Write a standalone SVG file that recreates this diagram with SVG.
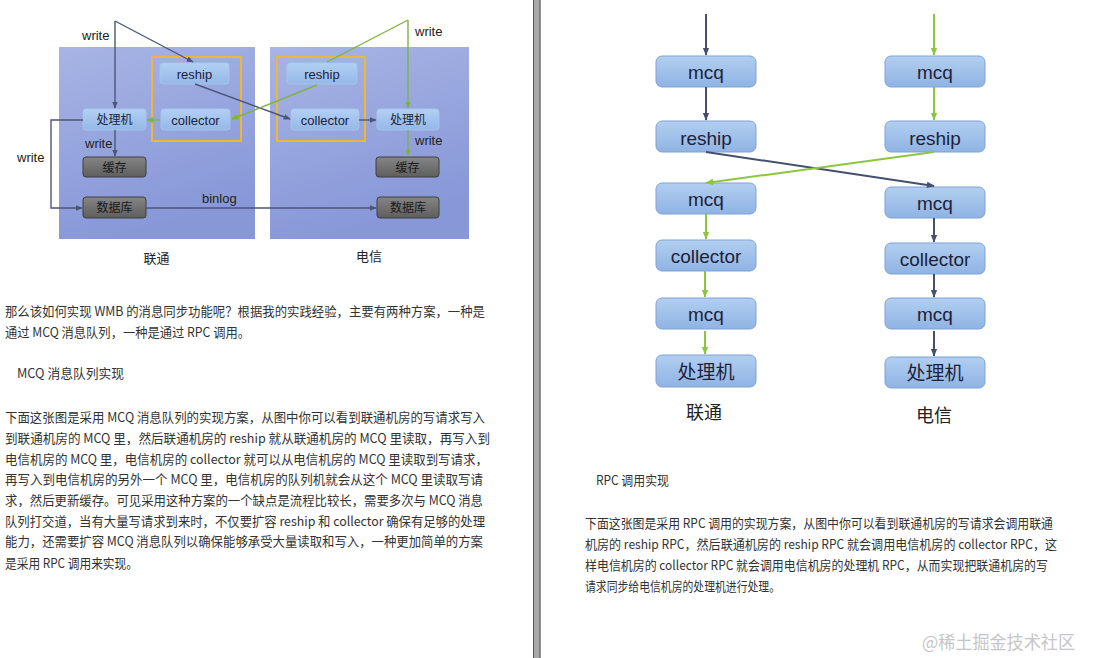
<svg xmlns="http://www.w3.org/2000/svg" width="1100" height="658" viewBox="0 0 1100 658">
<defs>
<linearGradient id="panel" x1="0" y1="0" x2="0.3" y2="1"><stop offset="0" stop-color="#a7b4e4"/><stop offset="1" stop-color="#8797d8"/></linearGradient>
<linearGradient id="lbox" x1="0" y1="0" x2="0" y2="1"><stop offset="0" stop-color="#b3d0f3"/><stop offset="1" stop-color="#94b8e8"/></linearGradient>
<linearGradient id="gbox" x1="0" y1="0" x2="0" y2="1"><stop offset="0" stop-color="#858585"/><stop offset="1" stop-color="#5e5e5e"/></linearGradient>
<linearGradient id="rbox" x1="0" y1="0" x2="0" y2="1"><stop offset="0" stop-color="#b2cff1"/><stop offset="1" stop-color="#8fb3e3"/></linearGradient>
<marker id="ad" viewBox="0 0 10 10" refX="9" refY="5" markerWidth="7" markerHeight="7" markerUnits="userSpaceOnUse" orient="auto"><path d="M0,1 L10,5 L0,9 z" fill="#4b5677"/></marker>
<marker id="ag" viewBox="0 0 10 10" refX="9" refY="5" markerWidth="7" markerHeight="7" markerUnits="userSpaceOnUse" orient="auto"><path d="M0,1 L10,5 L0,9 z" fill="#7cb342"/></marker>
<marker id="agb" viewBox="0 0 10 10" refX="9" refY="5" markerWidth="8" markerHeight="8" markerUnits="userSpaceOnUse" orient="auto"><path d="M0,1 L10,5 L0,9 z" fill="#8cc63f"/></marker>
<marker id="adb" viewBox="0 0 10 10" refX="9" refY="5" markerWidth="8" markerHeight="8" markerUnits="userSpaceOnUse" orient="auto"><path d="M0,1 L10,5 L0,9 z" fill="#454f6e"/></marker>
</defs>
<style>
.panel{fill:url(#panel);}
.yel{fill:none;stroke:#f2b632;stroke-width:2;}
.lb{fill:url(#lbox);stroke:#a9c6ee;stroke-width:0.8;}
.gb{fill:url(#gbox);stroke:#3e3e3e;stroke-width:1;}
.rb{fill:url(#rbox);stroke:#7fa3d4;stroke-width:1;}
.t{font-family:"Liberation Sans","Noto Sans CJK SC",sans-serif;fill:#1d2238;text-anchor:middle;}
.s13{font-size:13px;}
.s12{font-size:12px;}
.lab{font-family:"Liberation Sans","Noto Sans CJK SC",sans-serif;font-size:13px;fill:#222;}
.big{font-size:19px;}
.cjk{font-family:"Noto Sans CJK SC",sans-serif;fill:#333;font-size:13px;}
.ld{fill:none;stroke:#4b5677;stroke-width:1.4;}
.lg{fill:none;stroke:#7cb342;stroke-width:1.4;}
.rd{fill:none;stroke:#454f6e;stroke-width:2;}
.rg{fill:none;stroke:#8cc63f;stroke-width:2;}
</style>
<rect x="0" y="0" width="1100" height="658" fill="#ffffff"/>

<!-- divider -->
<g id="divider">
<rect x="533" y="0" width="7.5" height="658" fill="#a9a9a9"/>
<line x1="533.5" y1="0" x2="533.5" y2="658" stroke="#555" stroke-width="1"/>
<line x1="540" y1="0" x2="540" y2="658" stroke="#555" stroke-width="1"/>
</g>

<!-- LEFT DIAGRAM -->
<g id="panel-liantong"><rect class="panel" x="59" y="47" width="196" height="192"/></g>
<g id="panel-dianxin"><rect class="panel" x="270" y="47" width="199" height="192"/></g>
<g id="group-left"><rect class="yel" x="152" y="57" width="89" height="84"/></g>
<g id="group-right"><rect class="yel" x="277" y="57" width="88" height="84"/></g>

<g id="l-reship"><rect class="lb" x="160" y="63" width="69" height="21" rx="3"/><text class="t s13" x="194.5" y="78.5">reship</text></g>
<g id="l-collector"><rect class="lb" x="161" y="109" width="69" height="21" rx="3"/><text class="t s13" x="195.5" y="124.5">collector</text></g>
<g id="l-proc"><rect class="lb" x="83" y="109" width="63" height="21" rx="3"/><text class="t s12" x="114.5" y="124">处理机</text></g>
<g id="l-cache"><rect class="gb" x="83" y="157" width="63" height="20" rx="3"/><text class="t s12" x="114.5" y="171.5" style="fill:#1a1a1a">缓存</text></g>
<g id="l-db"><rect class="gb" x="83" y="197" width="63" height="21" rx="3"/><text class="t s12" x="114.5" y="212" style="fill:#1a1a1a">数据库</text></g>

<g id="r-reship"><rect class="lb" x="287" y="63" width="70" height="21" rx="3"/><text class="t s13" x="322" y="78.5">reship</text></g>
<g id="r-collector"><rect class="lb" x="291" y="109" width="68" height="21" rx="3"/><text class="t s13" x="325" y="124.5">collector</text></g>
<g id="r-proc"><rect class="lb" x="377" y="109" width="62" height="21" rx="3"/><text class="t s12" x="408" y="124">处理机</text></g>
<g id="r-cache"><rect class="gb" x="376" y="157" width="63" height="20" rx="3"/><text class="t s12" x="407.5" y="171.5" style="fill:#1a1a1a">缓存</text></g>
<g id="r-db"><rect class="gb" x="377" y="197" width="62" height="21" rx="3"/><text class="t s12" x="408" y="212" style="fill:#1a1a1a">数据库</text></g>

<g id="connectors-left">
<path class="ld" d="M115,21 L115,108" marker-end="url(#ad)"/>
<path class="ld" d="M115,21 L193,62" marker-end="url(#ad)"/>
<path class="ld" d="M115,130 L115,156" marker-end="url(#ad)"/>
<path class="ld" d="M83,120 L51,120 L51,208 L82,208" marker-end="url(#ad)"/>
<path class="ld" d="M146,208 L376,208" marker-end="url(#ad)"/>
<path class="ld" d="M195,84 L290,119" marker-end="url(#ad)"/>
<path class="ld" d="M359,120 L376,120" marker-end="url(#ad)"/>
<path class="lg" d="M408,20 L408,108" marker-end="url(#ag)"/>
<path class="lg" d="M408,130 L408,156" marker-end="url(#ag)"/>
<path class="lg" d="M408,20 L327,62"/>
<path class="lg" d="M317,85 L232,119" marker-end="url(#ag)"/>
<path class="lg" d="M160,120 L147,120" marker-end="url(#ag)"/>
</g>
<g id="labels-left">
<text class="lab" x="82" y="39.5">write</text>
<text class="lab" x="85" y="147.5">write</text>
<text class="lab" x="17" y="161.5">write</text>
<text class="lab" x="202" y="202.5">binlog</text>
<text class="lab" x="415" y="36">write</text>
<text class="lab" x="415" y="145">write</text>
<text class="cjk" x="156.5" y="263" text-anchor="middle" style="fill:#222">联通</text>
<text class="cjk" x="369" y="261" text-anchor="middle" style="fill:#222">电信</text>
</g>

<!-- RIGHT DIAGRAM -->
<g id="a-mcq1"><rect class="rb" x="656" y="56" width="100" height="31" rx="6"/><text class="t big" x="706" y="78.5">mcq</text></g>
<g id="a-reship"><rect class="rb" x="656" y="121" width="100" height="31" rx="6"/><text class="t big" x="706" y="144.5">reship</text></g>
<g id="a-mcq2"><rect class="rb" x="656" y="183" width="100" height="31" rx="6"/><text class="t big" x="706" y="205.5">mcq</text></g>
<g id="a-collector"><rect class="rb" x="656" y="240" width="100" height="31" rx="6"/><text class="t big" x="706" y="262.5">collector</text></g>
<g id="a-mcq3"><rect class="rb" x="656" y="298" width="100" height="31" rx="6"/><text class="t big" x="706" y="320.5">mcq</text></g>
<g id="a-proc"><rect class="rb" x="656" y="355" width="100" height="32" rx="6"/><text class="t big" x="706" y="378.5">处理机</text></g>

<g id="b-mcq1"><rect class="rb" x="885" y="56" width="100" height="31" rx="6"/><text class="t big" x="935" y="78.5">mcq</text></g>
<g id="b-reship"><rect class="rb" x="885" y="121" width="100" height="31" rx="6"/><text class="t big" x="935" y="144.5">reship</text></g>
<g id="b-mcq2"><rect class="rb" x="885" y="187" width="100" height="31" rx="6"/><text class="t big" x="935" y="209.5">mcq</text></g>
<g id="b-collector"><rect class="rb" x="885" y="243" width="100" height="31" rx="6"/><text class="t big" x="935" y="265.5">collector</text></g>
<g id="b-mcq3"><rect class="rb" x="885" y="298" width="100" height="31" rx="6"/><text class="t big" x="935" y="320.5">mcq</text></g>
<g id="b-proc"><rect class="rb" x="885" y="357" width="100" height="31" rx="6"/><text class="t big" x="935" y="380">处理机</text></g>

<g id="connectors-right">
<path class="rd" d="M706,14 L706,55" marker-end="url(#adb)"/>
<path class="rd" d="M706,87 L706,120" marker-end="url(#adb)"/>
<path class="rd" d="M706,152 L934,186" marker-end="url(#adb)"/>
<path class="rg" d="M934,152 L706,183" marker-end="url(#agb)"/>
<path class="rg" d="M706,214 L706,239" marker-end="url(#agb)"/>
<path class="rg" d="M705,271 L705,297" marker-end="url(#agb)"/>
<path class="rg" d="M705,331 L705,354" marker-end="url(#agb)"/>
<path class="rg" d="M934,14 L934,55" marker-end="url(#agb)"/>
<path class="rg" d="M934,87 L934,120" marker-end="url(#agb)"/>
<path class="rd" d="M934,218 L934,242" marker-end="url(#adb)"/>
<path class="rd" d="M934,274 L934,297" marker-end="url(#adb)"/>
<path class="rd" d="M934,331 L934,356" marker-end="url(#adb)"/>
</g>
<g id="labels-right">
<text class="cjk" x="704" y="419" text-anchor="middle" style="font-size:18px;fill:#222">联通</text>
<text class="cjk" x="934" y="422" text-anchor="middle" style="font-size:18px;fill:#222">电信</text>
</g>

<!-- TEXT -->
<g id="text-left">
<text class="cjk" x="5" y="316" textLength="480" lengthAdjust="spacingAndGlyphs">那么该如何实现 WMB 的消息同步功能呢？根据我的实践经验，主要有两种方案，一种是</text>
<text class="cjk" x="5" y="337" textLength="245" lengthAdjust="spacingAndGlyphs">通过 MCQ 消息队列，一种是通过 RPC 调用。</text>
<text class="cjk" x="17" y="378" textLength="107" lengthAdjust="spacingAndGlyphs">MCQ 消息队列实现</text>
<text class="cjk" x="5" y="422" textLength="480" lengthAdjust="spacingAndGlyphs">下面这张图是采用 MCQ 消息队列的实现方案，从图中你可以看到联通机房的写请求写入</text>
<text class="cjk" x="5" y="443" textLength="485" lengthAdjust="spacingAndGlyphs">到联通机房的 MCQ 里，然后联通机房的 reship 就从联通机房的 MCQ 里读取，再写入到</text>
<text class="cjk" x="5" y="464" textLength="483" lengthAdjust="spacingAndGlyphs">电信机房的 MCQ 里，电信机房的 collector 就可以从电信机房的 MCQ 里读取到写请求，</text>
<text class="cjk" x="5" y="484" textLength="478" lengthAdjust="spacingAndGlyphs">再写入到电信机房的另外一个 MCQ 里，电信机房的队列机就会从这个 MCQ 里读取写请</text>
<text class="cjk" x="5" y="505" textLength="478" lengthAdjust="spacingAndGlyphs">求，然后更新缓存。可见采用这种方案的一个缺点是流程比较长，需要多次与 MCQ 消息</text>
<text class="cjk" x="5" y="526" textLength="480" lengthAdjust="spacingAndGlyphs">队列打交道，当有大量写请求到来时，不仅要扩容 reship 和 collector 确保有足够的处理</text>
<text class="cjk" x="5" y="546" textLength="478" lengthAdjust="spacingAndGlyphs">能力，还需要扩容 MCQ 消息队列以确保能够承受大量读取和写入，一种更加简单的方案</text>
<text class="cjk" x="5" y="568" textLength="133" lengthAdjust="spacingAndGlyphs">是采用 RPC 调用来实现。</text>
</g>
<g id="text-right">
<text class="cjk" x="596" y="485" textLength="73" lengthAdjust="spacingAndGlyphs">RPC 调用实现</text>
<text class="cjk" x="585" y="528" textLength="468" lengthAdjust="spacingAndGlyphs">下面这张图是采用 RPC 调用的实现方案，从图中你可以看到联通机房的写请求会调用联通</text>
<text class="cjk" x="585" y="549" textLength="472" lengthAdjust="spacingAndGlyphs">机房的 reship RPC，然后联通机房的 reship RPC 就会调用电信机房的 collector RPC，这</text>
<text class="cjk" x="585" y="570" textLength="463" lengthAdjust="spacingAndGlyphs">样电信机房的 collector RPC 就会调用电信机房的处理机 RPC，从而实现把联通机房的写</text>
<text class="cjk" x="585" y="591" textLength="195" lengthAdjust="spacingAndGlyphs">请求同步给电信机房的处理机进行处理。</text>
<text class="cjk" x="922" y="649" textLength="153" lengthAdjust="spacingAndGlyphs" style="font-size:18px;fill:#c6c6c6">@稀土掘金技术社区</text>
</g>
</svg>
